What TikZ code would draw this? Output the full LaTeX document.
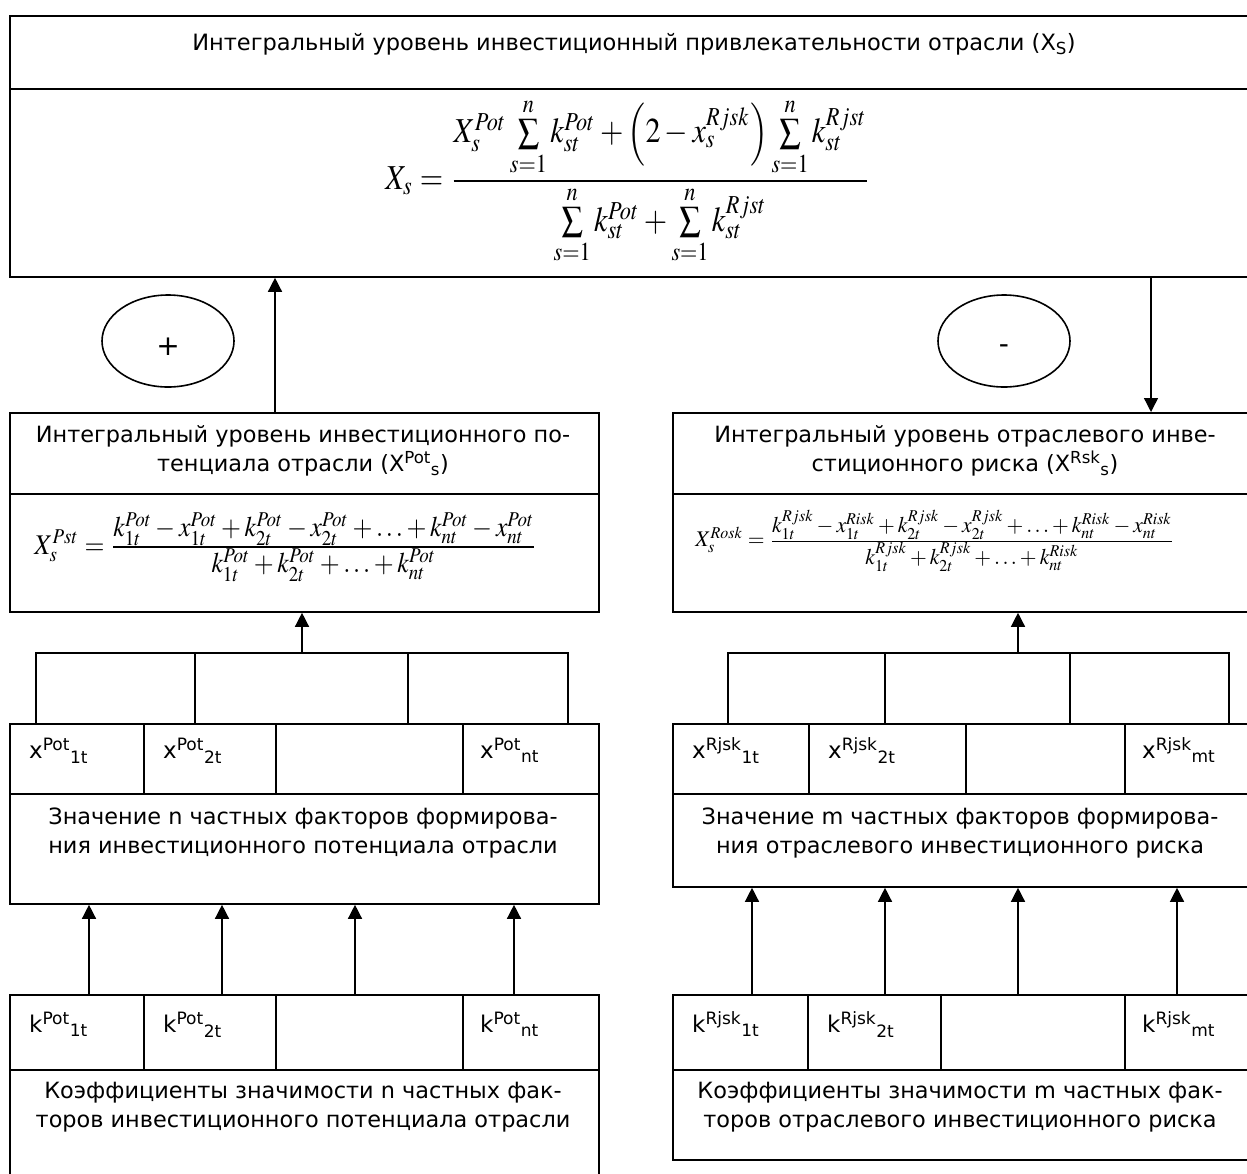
\documentclass[tikz,border=0pt]{standalone}
\usepackage{mathptmx}
\usepackage{graphicx}
\usepackage[no-math]{fontspec}
\setmainfont{DejaVu Sans}
\usetikzlibrary{arrows.meta,calc,shapes.geometric}
\tikzset{
  box/.style={draw, line width=1.8pt, rectangle, anchor=north west, inner sep=0pt},
  arr/.style={line width=1.4pt, -{Triangle[length=14pt,width=14pt]}},
  ln/.style={line width=1.4pt},
  txt/.style={font=\fontsize{22.4}{29}\selectfont, align=center, inner sep=0pt},
  ttl/.style={font=\fontsize{22.5}{28}\selectfont, inner sep=0pt},
  cl/.style={font=\fontsize{23}{26}\selectfont, anchor=base west, inner sep=0pt},
  oval/.style={draw, ellipse, line width=1.6pt, inner sep=0pt, minimum width=132pt, minimum height=92pt, font=\fontsize{28}{30}\selectfont},
  fm/.style={inner sep=0pt},
}
\begin{document}
\begin{tikzpicture}[x=1pt,y=-1pt]
\useasboundingbox (0,0) rectangle (1247,1173);
\fill[white] (0,0) rectangle (1247,1173);
\clip (0,0) rectangle (1247,1173);

% top box
\node[box, minimum width=1260pt, minimum height=73pt] (topT) at (9,15) {};
\node[box, minimum width=1260pt, minimum height=188pt] (topF) at (9,88) {};
\node[ttl] (topTl) at (634,44) {Интегральный уровень инвестиционный привлекательности отрасли (X\textsubscript{S})};
\node[fm] (topFm) at (628,181) {\resizebox*{485pt}{167pt}{$\displaystyle X_s=\frac{X_s^{Pot}\sum\limits_{s=1}^{n}k_{st}^{Pot}+\left(2-x_s^{Rjsk}\right)\sum\limits_{s=1}^{n}k_{st}^{Rjst}}{\sum\limits_{s=1}^{n}k_{st}^{Pot}+\sum\limits_{s=1}^{n}k_{st}^{Rjst}}$}};

% ovals
\node[oval] (plus) at (168,341) {\raisebox{-14pt}[0pt][0pt]{+}};
\node[oval] (minus) at (1004,341) {\raisebox{-12pt}[0pt][0pt]{-}};

% level-2 boxes
\node[box, minimum width=589pt, minimum height=81pt] (potT) at (9,412) {};
\node[box, minimum width=589pt, minimum height=118pt] (potF) at (9,493) {};
\node[txt] (potTl) at (303,451) {Интегральный уровень инвестиционного по-\\тенциала отрасли (X\textsuperscript{Pot}\textsubscript{s})};
\node[fm] (potFm) at (286,547) {\resizebox*{503pt}{69pt}{$\textstyle X_s^{Pst}=\frac{\textstyle k_{1t}^{Pot}-x_{1t}^{Pot}+k_{2t}^{Pot}-x_{2t}^{Pot}+\ldots+k_{nt}^{Pot}-x_{nt}^{Pot}}{\textstyle k_{1t}^{Pot}+k_{2t}^{Pot}+\ldots+k_{nt}^{Pot}}$}};

\node[box, minimum width=600pt, minimum height=81pt] (rskT) at (672,412) {};
\node[box, minimum width=600pt, minimum height=118pt] (rskF) at (672,493) {};
\node[txt] (rskTl) at (965,451) {Интегральный уровень отраслевого инве-\\стиционного риска (X\textsuperscript{Rsk}\textsubscript{s})};
\node[fm] (rskFm) at (935,541) {\resizebox*{479pt}{62pt}{$\textstyle X_s^{Rosk}=\frac{\textstyle k_{1t}^{Rjsk}-x_{1t}^{Risk}+k_{2t}^{Rjsk}-x_{2t}^{Rjsk}+\ldots+k_{nt}^{Risk}-x_{nt}^{Risk}}{\textstyle k_{1t}^{Rjsk}+k_{2t}^{Rjsk}+\ldots+k_{nt}^{Risk}}$}};

\coordinate (cA) at (275,0);
\coordinate (cB) at (1151,0);
\draw[arr] (potT.north -| cA) -- (topF.south -| cA);
\draw[arr] (topF.south -| cB) -- (rskT.north -| cB);

% left x-row
\node[box, minimum width=134pt, minimum height=70pt] (LX1) at (9,723) {};
\node[box, minimum width=132pt, minimum height=70pt] (LX2) at (143,723) {};
\node[box, minimum width=187pt, minimum height=70pt] (LX3) at (275,723) {};
\node[box, minimum width=136pt, minimum height=70pt] (LX4) at (462,723) {};
\node[box, minimum width=589pt, minimum height=110pt] (LXb) at (9,793) {};
\node[cl] (LX1t) at ($(LX1.west)+(20,0)$) {x\textsuperscript{Pot}\textsubscript{1t}};
\node[cl] (LX2t) at ($(LX2.west)+(20,0)$) {x\textsuperscript{Pot}\textsubscript{2t}};
\node[cl] (LX4t) at ($(LX4.west)+(18,0)$) {x\textsuperscript{Pot}\textsubscript{nt}};
\node[txt] (LXbt) at (303,833) {Значение n частных факторов формирова-\\ния инвестиционного потенциала отрасли};

% right x-row
\node[box, minimum width=136pt, minimum height=70pt] (RX1) at (672,723) {};
\node[box, minimum width=157pt, minimum height=70pt] (RX2) at (808,723) {};
\node[box, minimum width=159pt, minimum height=70pt] (RX3) at (965,723) {};
\node[box, minimum width=146pt, minimum height=70pt] (RX4) at (1124,723) {};
\node[box, minimum width=600pt, minimum height=93pt] (RXb) at (672,793) {};
\node[cl] (RX1t) at ($(RX1.west)+(20,0)$) {x\textsuperscript{Rjsk}\textsubscript{1t}};
\node[cl] (RX2t) at ($(RX2.west)+(20,0)$) {x\textsuperscript{Rjsk}\textsubscript{2t}};
\node[cl] (RX4t) at ($(RX4.west)+(18,0)$) {x\textsuperscript{Rjsk}\textsubscript{mt}};
\node[txt] (RXbt) at (960,833) {Значение m частных факторов формирова-\\ния отраслевого инвестиционного риска};

% brackets
\coordinate (LB1) at (36,653);
\coordinate (LB2) at (195,653);
\coordinate (LB3) at (408,653);
\coordinate (LB4) at (568,653);
\coordinate (LBm) at (302,653);
\draw[ln] (LX1.north -| LB1) -- (LB1) -- (LB4) -- (LX4.north -| LB4);
\draw[ln] (LB2) -- (LX2.north -| LB2);
\draw[ln] (LB3) -- (LX3.north -| LB3);
\draw[arr] (LBm) -- (potF.south -| LBm);

\coordinate (RB1) at (728,653);
\coordinate (RB2) at (885,653);
\coordinate (RB3) at (1070,653);
\coordinate (RB4) at (1229,653);
\coordinate (RBm) at (1018,653);
\draw[ln] (RX1.north -| RB1) -- (RB1) -- (RB4) -- (RX4.north -| RB4);
\draw[ln] (RB2) -- (RX2.north -| RB2);
\draw[ln] (RB3) -- (RX3.north -| RB3);
\draw[arr] (RBm) -- (rskF.south -| RBm);

% left k-row
\node[box, minimum width=134pt, minimum height=75pt] (LK1) at (9,994) {};
\node[box, minimum width=132pt, minimum height=75pt] (LK2) at (143,994) {};
\node[box, minimum width=187pt, minimum height=75pt] (LK3) at (275,994) {};
\node[box, minimum width=136pt, minimum height=75pt] (LK4) at (462,994) {};
\node[box, minimum width=589pt, minimum height=140pt] (LKb) at (9,1069) {};
\node[cl] (LK1t) at ($(LK1.west)+(20,0)$) {k\textsuperscript{Pot}\textsubscript{1t}};
\node[cl] (LK2t) at ($(LK2.west)+(20,0)$) {k\textsuperscript{Pot}\textsubscript{2t}};
\node[cl] (LK4t) at ($(LK4.west)+(18,0)$) {k\textsuperscript{Pot}\textsubscript{nt}};
\node[txt] (LKbt) at (303,1107) {Коэффициенты значимости n частных фак-\\торов инвестиционного потенциала отрасли};

% right k-row
\node[box, minimum width=135pt, minimum height=75pt] (RK1) at (672,994) {};
\node[box, minimum width=133pt, minimum height=75pt] (RK2) at (807,994) {};
\node[box, minimum width=184pt, minimum height=75pt] (RK3) at (940,994) {};
\node[box, minimum width=146pt, minimum height=75pt] (RK4) at (1124,994) {};
\node[box, minimum width=600pt, minimum height=90pt] (RKb) at (672,1069) {};
\node[cl] (RK1t) at ($(RK1.west)+(20,0)$) {k\textsuperscript{Rjsk}\textsubscript{1t}};
\node[cl] (RK2t) at ($(RK2.west)+(20,0)$) {k\textsuperscript{Rjsk}\textsubscript{2t}};
\node[cl] (RK4t) at ($(RK4.west)+(18,0)$) {k\textsuperscript{Rjsk}\textsubscript{mt}};
\node[txt] (RKbt) at (960,1107) {Коэффициенты значимости m частных фак-\\торов отраслевого инвестиционного риска};

% k -> x arrows
\coordinate (la1) at (89,0);
\coordinate (la2) at (222,0);
\coordinate (la3) at (355,0);
\coordinate (la4) at (514,0);
\draw[arr] (LK1.north -| la1) -- (LXb.south -| la1);
\draw[arr] (LK2.north -| la2) -- (LXb.south -| la2);
\draw[arr] (LK3.north -| la3) -- (LXb.south -| la3);
\draw[arr] (LK4.north -| la4) -- (LXb.south -| la4);
\coordinate (ra1) at (752,0);
\coordinate (ra2) at (885,0);
\coordinate (ra3) at (1018,0);
\coordinate (ra4) at (1177,0);
\draw[arr] (RK1.north -| ra1) -- (RXb.south -| ra1);
\draw[arr] (RK2.north -| ra2) -- (RXb.south -| ra2);
\draw[arr] (RK3.north -| ra3) -- (RXb.south -| ra3);
\draw[arr] (RK4.north -| ra4) -- (RXb.south -| ra4);
\end{tikzpicture}
\end{document}
